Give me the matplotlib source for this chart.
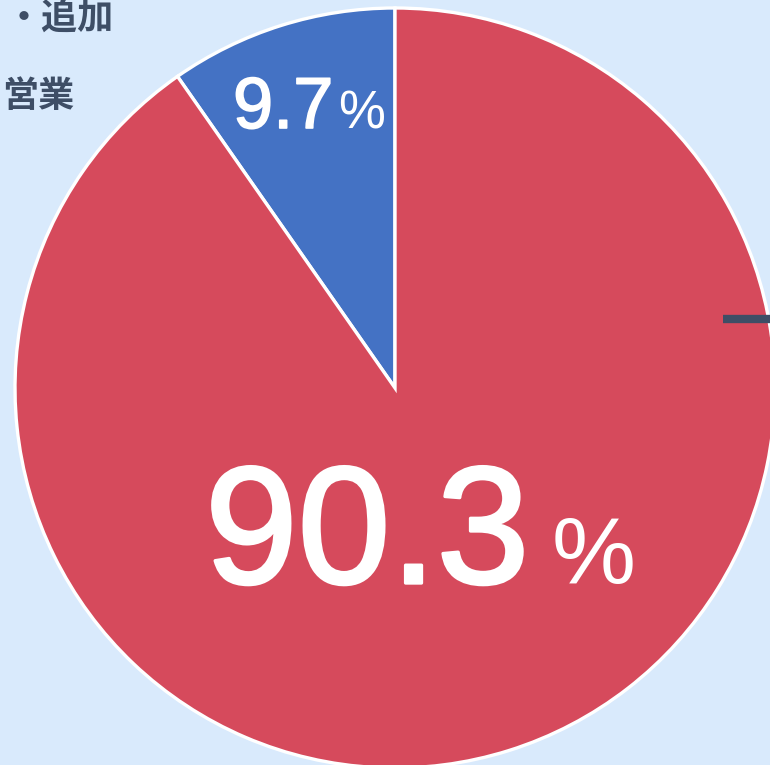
import matplotlib
matplotlib.use("Agg")
import matplotlib.pyplot as plt
import matplotlib.patheffects as pe

# data
labels = ["追加営業", "その他"]
shares = [9.7, 90.3]
colors = ["#4472c4", "#d64a5c"]

BG = "#d9eafc"
INK = "#3e4e66"

W, H = 770, 765
fig = plt.figure(figsize=(W / 100, H / 100), dpi=100, facecolor=BG)
ax = fig.add_axes([0, 0, 1, 1])
ax.set_facecolor(BG)
ax.axis("off")

cx, cy, r = 395, H - 388, 380
ax.pie(shares, colors=colors, startangle=90, counterclock=True,
       center=(cx, cy), radius=r,
       wedgeprops=dict(edgecolor="white", linewidth=2.4))
ax.set_aspect("equal")
ax.set_xlim(0, W)
ax.set_ylim(0, H)

num = dict(color="white", family="Liberation Sans", va="baseline", ha="left")
thick = lambda w: [pe.withStroke(linewidth=w, foreground="white")]
# small slice label
ax.text(233, H - 128, f"{shares[0]:.1f}", fontsize=52, path_effects=thick(1.2), **num)
ax.text(338, H - 128, "%", fontsize=38, **num)
# big slice label
ax.text(205, H - 583, f"{shares[1]:.1f}", fontsize=120, path_effects=thick(2.4), **num)
ax.text(552, H - 583, "%", fontsize=68, **num)

# category caption (top-left)
cjk = ["Noto Sans CJK JP", "DejaVu Sans"]
ax.text(6, H - 18, "・追加", fontsize=26, color=INK, family=cjk,
        weight="bold", ha="left", va="center")
ax.text(2, H - 96, "営業", fontsize=26, color=INK, family=cjk,
        weight="bold", ha="left", va="center")

# leader stub at right edge
ax.plot([723, W], [H - 319, H - 319], color=INK, lw=6, solid_capstyle="butt")

fig.savefig("out.png", dpi=100, facecolor=BG)
